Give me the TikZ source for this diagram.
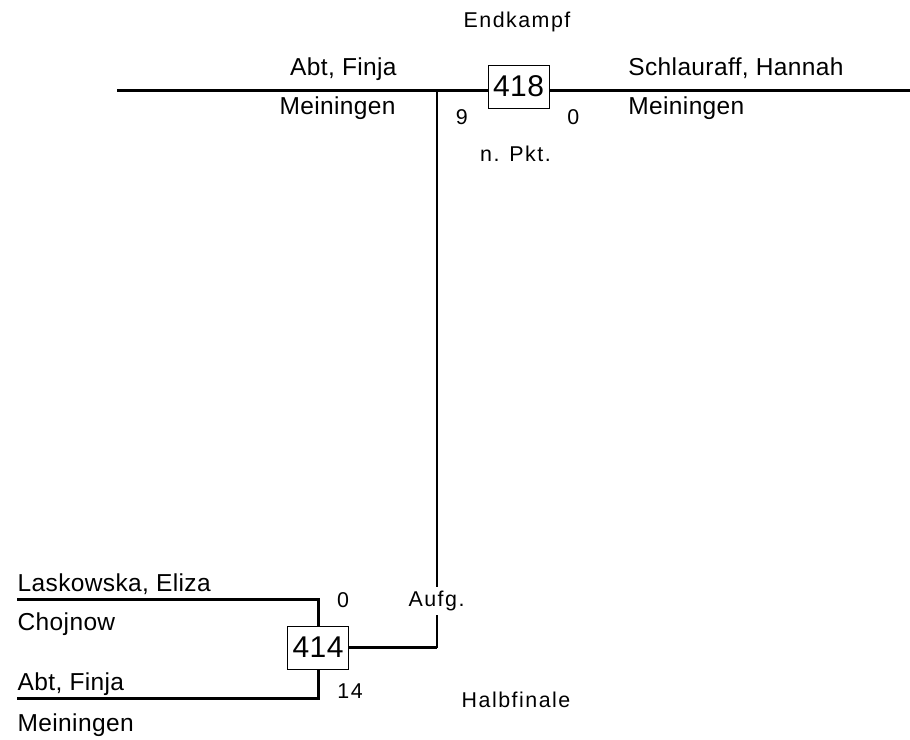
\documentclass[tikz,border=0pt]{standalone}
\usepackage{fontspec}
\setmainfont[LetterSpace=1.5]{Liberation Sans}
\newfontfamily\kleinfont[LetterSpace=7]{Liberation Sans}
\usepackage{tikz}
\usetikzlibrary{backgrounds,positioning}
\tikzset{
  spieler/.style = {inner sep=0pt, font=\fontsize{12.25}{14}\selectfont},% name oder verein
  spieler_l/.style = {spieler, anchor=base east},% links vom strich
  spieler_r/.style = {spieler, anchor=base west},% rechts vom strich
  klein/.style = {inner sep=0pt, anchor=base,
    font=\kleinfont\fontsize{10.7}{12}\selectfont},% runde, punkte
  spiel_box/.style = {draw=black, line width=0.5pt, fill=white, inner sep=0pt,
    minimum width=30.5pt, minimum height=21.5pt,
    font=\fontsize{15}{18}\selectfont},% kampfnummer
  strich/.style = {line width=1.5pt},% linie unter den namen
  strich_v/.style = {line width=1.1pt}% senkrechte linie
}

\begin{document}
\begin{tikzpicture}[x=0.5pt,y=-0.5pt]
        \useasboundingbox (0,0) rectangle (910,739);
        % endkampf
        \node [klein] (endkampf) at (517,27) {Endkampf};
        \node [spiel_box] (b418) at (518.5,86.5) {418};
        \node [spieler_l] (f_name) at (397,75) {Abt, Finja};
        \node [spieler_l] (f_verein) at (396,114) {Meiningen};
        \node [spieler_r] (s_name) at (628,75) {Schlauraff, Hannah};
        \node [spieler_r] (s_verein) at (628,114) {Meiningen};
        \node [klein] (p9) at (461.7,124) {9};
        \node [klein] (p0) at (573.3,124) {0};
        \node [klein] (npkt) at (515.5,161.7) {n. Pkt.};
        \coordinate (e_links) at (117,90);
        \coordinate (e_rechts) at (910,90);
        \coordinate (e_knick) at (437,90);
        % halbfinale
        \node [spieler_r] (l_name) at (17.3,591) {Laskowska, Eliza};
        \node [spieler_r] (l_verein) at (17.3,630) {Chojnow};
        \node [spieler_r] (a_name) at (17.3,690) {Abt, Finja};
        \node [spieler_r] (a_verein) at (17.3,731) {Meiningen};
        \node [spiel_box] (b414) at (318,647.5) {414};
        \node [klein] (q0) at (343,607.7) {0};
        \node [klein] (q14) at (350,698) {14};
        \node [klein, fill=white, inner sep=2pt] (aufg) at (436.5,606.7) {Aufg.};
        \node [klein] (halbfinale) at (516,707.3) {Halbfinale};
        \coordinate (h_oben) at (17,599.3);
        \coordinate (h_unten) at (17,698.3);
        \coordinate (h_knick) at (437,647.5);

        \begin{scope}[on background layer]
          \draw [strich] (e_links) -- (e_rechts);
          \draw [strich_v] (e_knick) -- (h_knick);
          \draw [strich] (h_knick) -- (b414.east);
          \draw [strich] (h_oben) -| (b414.north);
          \draw [strich] (h_unten) -| (b414.south);
        \end{scope}
\end{tikzpicture}
\end{document}
